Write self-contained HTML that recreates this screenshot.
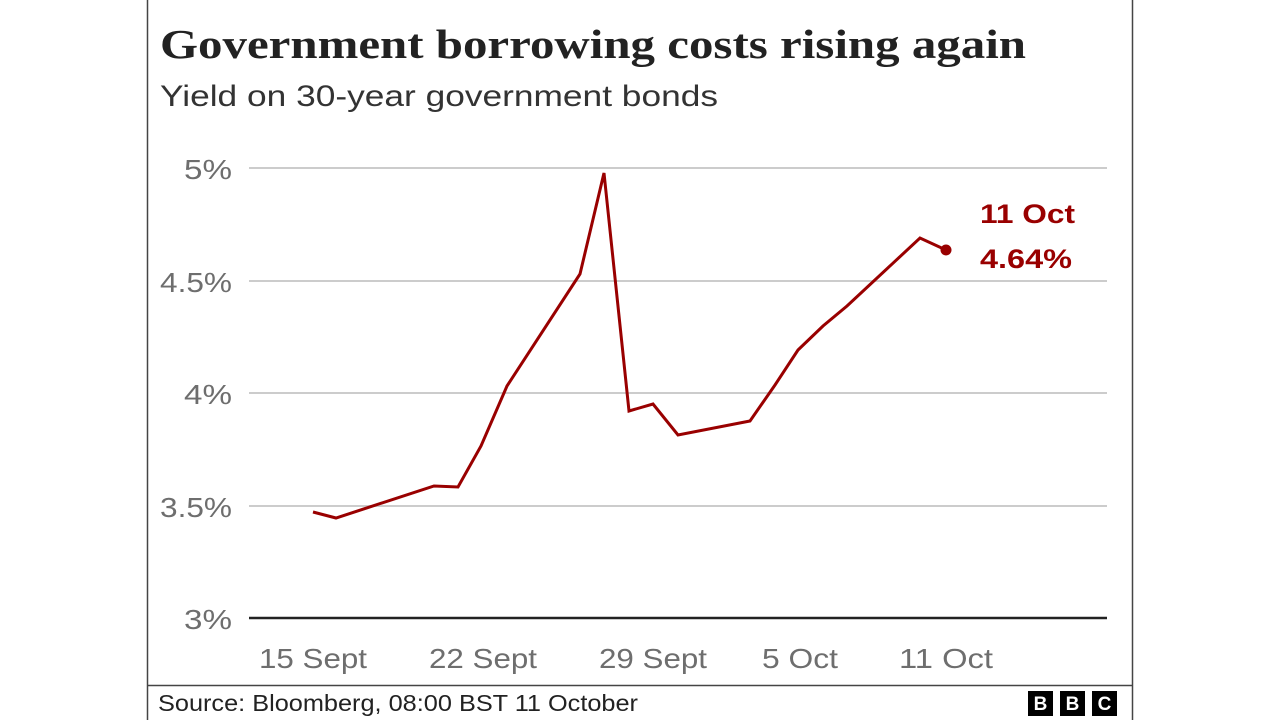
<!DOCTYPE html>
<html><head><meta charset="utf-8"><style>
body{margin:0;background:#fff;width:1280px;height:720px;overflow:hidden;font-family:"Liberation Sans",sans-serif;}
</style></head><body>
<svg width="1280" height="720" xmlns="http://www.w3.org/2000/svg" font-family="Liberation Sans, sans-serif">
<rect width="1280" height="720" fill="#fff"/>
<line x1="147.5" y1="0" x2="147.5" y2="720" stroke="#444" stroke-width="1.5"/>
<line x1="1132.5" y1="0" x2="1132.5" y2="720" stroke="#444" stroke-width="1.5"/>
<line x1="147" y1="685.5" x2="1133" y2="685.5" stroke="#444" stroke-width="1.5"/>
<text x="160" y="58" font-size="41" font-weight="bold" fill="#222" font-family="Liberation Serif, serif" textLength="866" lengthAdjust="spacingAndGlyphs">Government borrowing costs rising again</text>
<text x="160" y="106" font-size="30" fill="#333" textLength="558" lengthAdjust="spacingAndGlyphs">Yield on 30-year government bonds</text>
<g stroke="#ccc" stroke-width="2">
<line x1="249" y1="168" x2="1107" y2="168"/>
<line x1="249" y1="281" x2="1107" y2="281"/>
<line x1="249" y1="393" x2="1107" y2="393"/>
<line x1="249" y1="506" x2="1107" y2="506"/>
</g>
<line x1="249" y1="618" x2="1107" y2="618" stroke="#222" stroke-width="2.5"/>
<g font-size="28" fill="#6e6e6e" text-anchor="end">
<text x="232" y="179" textLength="48" lengthAdjust="spacingAndGlyphs">5%</text>
<text x="232" y="292" textLength="72" lengthAdjust="spacingAndGlyphs">4.5%</text>
<text x="232" y="404" textLength="48" lengthAdjust="spacingAndGlyphs">4%</text>
<text x="232" y="517" textLength="72" lengthAdjust="spacingAndGlyphs">3.5%</text>
<text x="232" y="629" textLength="48" lengthAdjust="spacingAndGlyphs">3%</text>
</g>
<g font-size="28" fill="#6e6e6e" text-anchor="middle">
<text x="313" y="668" textLength="108" lengthAdjust="spacingAndGlyphs">15 Sept</text>
<text x="483" y="668" textLength="108" lengthAdjust="spacingAndGlyphs">22 Sept</text>
<text x="653" y="668" textLength="108" lengthAdjust="spacingAndGlyphs">29 Sept</text>
<text x="800" y="668" textLength="76" lengthAdjust="spacingAndGlyphs">5 Oct</text>
<text x="946" y="668" textLength="94" lengthAdjust="spacingAndGlyphs">11 Oct</text>
</g>
<polyline fill="none" stroke="#990000" stroke-width="3" stroke-linejoin="miter" points="313,512 336,518 434,486 458,487 481,446 507,386 580,274 604,173 629,411 653,404 678,435 750,421 775,385 798,350 823,326 847,306 920,238 946,250"/>
<circle cx="946" cy="250" r="5.5" fill="#990000"/>
<text x="980" y="223" font-size="27" font-weight="bold" fill="#990000" textLength="95" lengthAdjust="spacingAndGlyphs">11 Oct</text>
<text x="980" y="268" font-size="27" font-weight="bold" fill="#990000" textLength="92" lengthAdjust="spacingAndGlyphs">4.64%</text>
<text x="158" y="711" font-size="23" fill="#222" textLength="480" lengthAdjust="spacingAndGlyphs">Source: Bloomberg, 08:00 BST 11 October</text>
<g>
<rect x="1028" y="691" width="25" height="25" fill="#000"/>
<rect x="1060" y="691" width="25" height="25" fill="#000"/>
<rect x="1092" y="691" width="25" height="25" fill="#000"/>
<g font-size="19" font-weight="bold" fill="#fff" text-anchor="middle">
<text x="1040.5" y="710">B</text><text x="1072.5" y="710">B</text><text x="1104.5" y="710">C</text>
</g></g>
</svg>
</body></html>
